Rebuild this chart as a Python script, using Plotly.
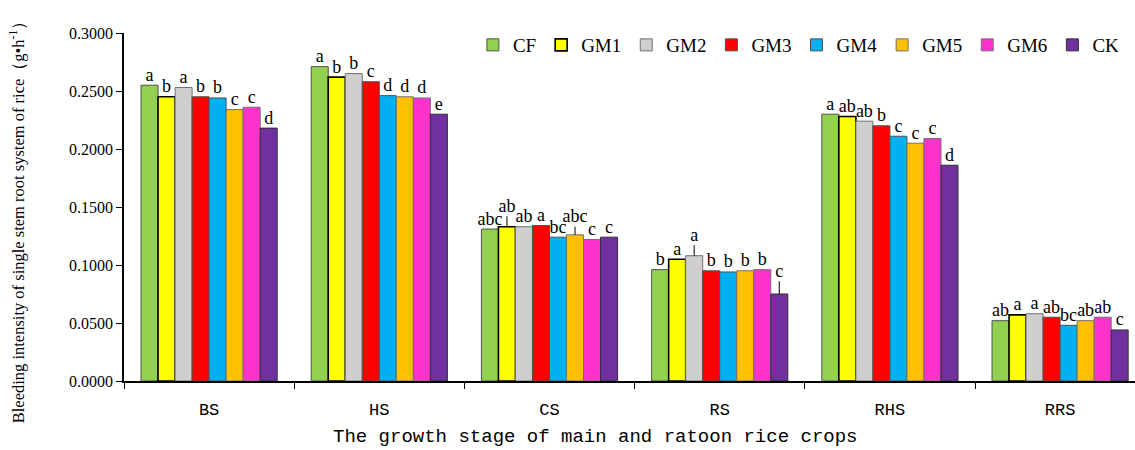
import plotly.graph_objects as go

stages = ["BS", "HS", "CS", "RS", "RHS", "RRS"]
treatments = ["CF", "GM1", "GM2", "GM3", "GM4", "GM5", "GM6", "CK"]

CF  = [0.255, 0.271, 0.131, 0.096, 0.230, 0.052]
GM1 = [0.245, 0.262, 0.133, 0.105, 0.228, 0.057]
GM2 = [0.253, 0.265, 0.133, 0.108, 0.224, 0.058]
GM3 = [0.245, 0.258, 0.134, 0.095, 0.220, 0.055]
GM4 = [0.244, 0.246, 0.124, 0.094, 0.211, 0.048]
GM5 = [0.234, 0.245, 0.126, 0.095, 0.205, 0.052]
GM6 = [0.236, 0.244, 0.122, 0.096, 0.209, 0.055]
CK  = [0.218, 0.230, 0.124, 0.075, 0.186, 0.044]
values = [CF, GM1, GM2, GM3, GM4, GM5, GM6, CK]

err_CF  = [0, 0, 0, 0, 0, 0]
err_GM1 = [0, 0, 0.009, 0, 0, 0]
err_GM2 = [0, 0, 0, 0.009, 0, 0]
err_GM3 = [0, 0, 0, 0, 0, 0]
err_GM4 = [0, 0, 0, 0, 0, 0]
err_GM5 = [0, 0, 0.007, 0, 0, 0]
err_GM6 = [0, 0, 0, 0, 0, 0]
err_CK  = [0, 0, 0, 0.011, 0, 0]
errors = [err_CF, err_GM1, err_GM2, err_GM3, err_GM4, err_GM5, err_GM6, err_CK]

let_CF  = ["a", "a", "abc", "b", "a", "ab"]
let_GM1 = ["b", "b", "ab", "a", "ab", "a"]
let_GM2 = ["a", "b", "ab", "a", "ab", "a"]
let_GM3 = ["b", "c", "a", "b", "b", "ab"]
let_GM4 = ["b", "d", "bc", "b", "c", "bc"]
let_GM5 = ["c", "d", "abc", "b", "c", "ab"]
let_GM6 = ["c", "d", "c", "b", "c", "ab"]
let_CK  = ["d", "e", "c", "c", "d", "c"]
letters = [let_CF, let_GM1, let_GM2, let_GM3, let_GM4, let_GM5, let_GM6, let_CK]

colors = ["#92D050", "#FFFF00", "#D0CECE", "#FF0000", "#00B0F0", "#FFC000", "#FF33CC", "#7030A0"]
line_colors = ["#505050", "#000000", "#707070", "#505050", "#505050", "#707070", "#707070", "#303030"]
line_widths = [1, 1.6, 1, 1, 1, 1, 1, 1]

serif = "Liberation Serif"
fig = go.Figure()
for i, name in enumerate(treatments):
    fig.add_trace(go.Bar(
        x=stages, y=values[i], name=name, offsetgroup=name,
        marker=dict(color=colors[i], line=dict(color=line_colors[i], width=line_widths[i])),
        error_y=dict(type="data", array=errors[i], arrayminus=[0]*len(stages), symmetric=False,
                     color="black", thickness=1, width=0),
    ))
for i, name in enumerate(treatments):
    tops = [v + e for v, e in zip(values[i], errors[i])]
    fig.add_trace(go.Scatter(
        x=stages, y=tops, mode="text", text=letters[i], textposition="top center",
        offsetgroup=name, showlegend=False, cliponaxis=False, hoverinfo="skip",
        textfont=dict(family=serif, size=18, color="black"),
    ))

fig.update_layout(
    width=1135, height=450,
    margin=dict(l=124, r=0, t=33, b=69),
    barmode="group", bargap=0.2, bargroupgap=0,
    scattermode="group", scattergap=0.2,
    plot_bgcolor="white", paper_bgcolor="white",
    font=dict(family=serif, color="black"),
    legend=dict(orientation="h", x=0.99, xanchor="right", y=0.9655, yanchor="middle",
                font=dict(family=serif, size=19), bgcolor="rgba(0,0,0,0)",
                itemwidth=30, tracegroupgap=0),
    xaxis=dict(type="category", range=[-0.5, 5.44], showline=True, linecolor="black", linewidth=1.5,
               ticks="outside", tickson="boundaries", ticklen=6, tickcolor="black",
               ticklabelstandoff=12,
               tickfont=dict(family="Liberation Mono", size=17), showgrid=False),
    yaxis=dict(range=[0, 0.3], dtick=0.05, tickformat=".4f", showline=True, linecolor="black",
               linewidth=1.5, ticks="outside", ticklen=6, tickcolor="black",
               tickfont=dict(family=serif, size=16), showgrid=False, zeroline=False),
    annotations=[
        dict(text="The growth stage of main and ratoon rice crops", xref="paper", yref="paper",
             x=0.466, y=-0.16, xanchor="center", yanchor="middle", showarrow=False,
             font=dict(family="Liberation Mono", size=19)),
        dict(text="Bleeding intensity of single stem root system of rice（g•h<sup>-1</sup>）",
             xref="paper", yref="paper", x=-0.105, y=0.47, xanchor="center", yanchor="middle",
             textangle=-90, showarrow=False, font=dict(family=serif, size=16.5)),
    ],
)

fig.write_html("out.html", config={"displayModeBar": False},
               post_script="document.body.style.margin='0';document.body.style.overflow='hidden';")
